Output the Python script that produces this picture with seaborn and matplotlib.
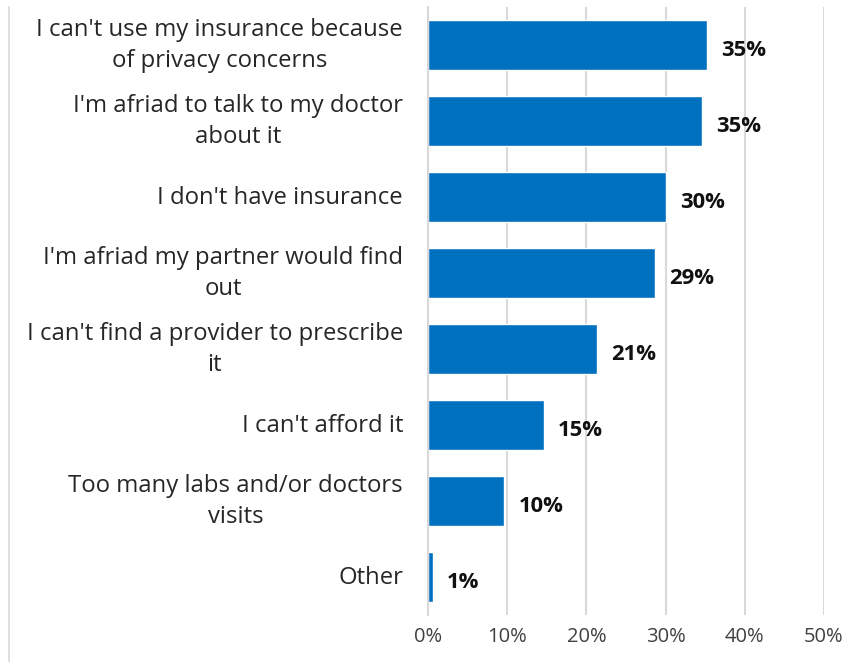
import matplotlib
matplotlib.use("Agg")
import matplotlib.pyplot as plt
import matplotlib.transforms as mtransforms
from matplotlib.lines import Line2D
import seaborn as sns
import pandas as pd

# Survey responses: barriers to access (percent of respondents)
categories = [
    "I can't use my insurance because\nof privacy concerns",
    "I'm afriad to talk to my doctor\nabout it",
    "I don't have insurance",
    "I'm afriad my partner would find\nout",
    "I can't find a provider to prescribe\nit",
    "I can't afford it",
    "Too many labs and/or doctors\nvisits",
    "Other",
]
values = [35.2, 34.6, 30.0, 28.6, 21.3, 14.6, 9.6, 0.6]
x_ticks = [0, 10, 20, 30, 40, 50]
x_tick_labels = ["0%", "10%", "20%", "30%", "40%", "50%"]

df = pd.DataFrame({"reason": categories, "pct": values})

sns.set_theme(style="white")
plt.rcParams["font.family"] = ["Open Sans", "DejaVu Sans"]

fig = plt.figure(figsize=(8.44, 6.62), dpi=100)
ax = fig.add_axes([428 / 844, 1 - 615 / 662, (824 - 428) / 844, (615 - 7) / 662])

sns.barplot(data=df, x="pct", y="reason", orient="h", color="#0070C0",
            saturation=1, width=0.67, ax=ax)

ax.set_xlim(0, 50)
ax.set_xticks(x_ticks)
ax.set_xticklabels(x_tick_labels, fontsize=14.5, color="#404040")
ax.set_xlabel("")
ax.set_ylabel("")
ax.tick_params(axis="x", length=0, pad=9)
ax.tick_params(axis="y", length=0, pad=18)
for lbl in ax.get_yticklabels():
    lbl.set_fontsize(17.2)
    lbl.set_color("#262626")
    lbl.set_horizontalalignment("right")
    lbl.set_multialignment("center")
    lbl.set_linespacing(1.38)
    # nudge labels up so the text block sits centred on its bar
    shift = 6 if "\n" in lbl.get_text() else 2
    lbl.set_transform(lbl.get_transform() +
                      mtransforms.ScaledTranslation(0, shift / 100, fig.dpi_scale_trans))

ax.xaxis.grid(True, color="#d9d9d9", linewidth=1.5)
ax.set_axisbelow(True)
for side in ["top", "right", "bottom"]:
    ax.spines[side].set_visible(False)
ax.spines["left"].set_color("#d9d9d9")
ax.spines["left"].set_linewidth(1.5)

# value labels at the end of each bar
for i, v in enumerate(values):
    ax.text(v + 1.8, i + 0.07, f"{v:.0f}%", va="center", ha="left",
            fontsize=15.8, fontweight="bold", fontstretch="normal",
            color="#111111")

# thin frame line at the left edge of the figure
fig.add_artist(Line2D([9 / 844, 9 / 844], [0, 1 - 7 / 662],
                      transform=fig.transFigure, color="#d9d9d9", linewidth=1.2))

fig.savefig("out.png", dpi=100, facecolor="white")
